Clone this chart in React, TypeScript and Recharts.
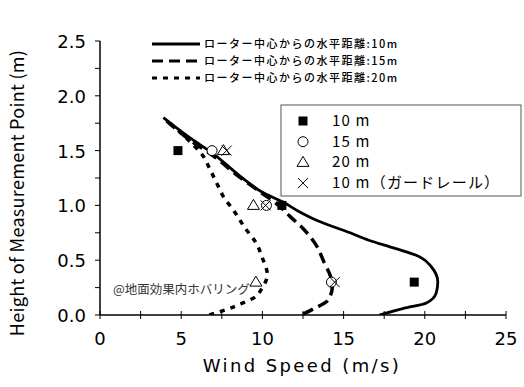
import { ComposedChart, Line, Scatter, XAxis, YAxis, Customized } from "recharts";

// curves: wind speed (m/s) vs height (m), by distance from rotor centre
const speed10 = [3.9, 5.5, 6.9, 8.6, 10.0, 11.27, 12.3, 13.4, 15.4, 16.6, 17.9, 19.7, 20.4, 20.8, 20.7, 20.1, 18.7, 17.2];
const height10 = [1.8, 1.62, 1.48, 1.27, 1.12, 1.03, 0.94, 0.86, 0.75, 0.68, 0.62, 0.53, 0.44, 0.3, 0.2, 0.11, 0.06, 0.0];

const speed15 = [4.1, 5.5, 6.9, 8.5, 9.9, 11.0, 11.7, 12.5, 13.3, 13.8, 14.2, 14.3, 14.0, 13.2, 12.4];
const height15 = [1.77, 1.6, 1.46, 1.27, 1.12, 1.0, 0.9, 0.79, 0.64, 0.48, 0.35, 0.25, 0.13, 0.06, 0.0];

const speed20 = [4.3, 5.35, 6.35, 6.8, 7.2, 7.6, 8.25, 8.9, 9.6, 10.0, 10.3, 10.0, 9.4, 8.8, 7.8, 6.7];
const height20 = [1.75, 1.61, 1.45, 1.32, 1.2, 1.08, 0.95, 0.8, 0.66, 0.52, 0.37, 0.25, 0.15, 0.11, 0.05, 0.0];

// measured points
const measHeights = [1.5, 1.0, 0.3];
const meas10 = [4.8, 11.2, 19.35];
const meas15 = [6.9, 10.25, 14.25];
const meas20 = [7.6, 9.45, 9.6];
const measGuard = [7.8, 10.2, 14.45];

const xTicks = [0, 2.5, 5, 7.5, 10, 12.5, 15, 17.5, 20, 22.5, 25];
const yTicks = [0, 0.25, 0.5, 0.75, 1, 1.25, 1.5, 1.75, 2, 2.25, 2.5];

const curveLabels = [
  "ローター中心からの水平距離:10m",
  "ローター中心からの水平距離:15m",
  "ローター中心からの水平距離:20m",
];
const markerLabels = ["10 m", "15 m", "20 m", "10 m（ガードレール）"];

const zip = (xs: number[], ys: number[]) => xs.map((x, i) => ({ x, y: ys[i] }));

const FONT = "'Noto Sans CJK JP', 'Noto Sans', sans-serif";
const NUM_FONT = "'DejaVu Sans', sans-serif";

const XTick = (props: any) => {
  const { x, y, payload } = props;
  const major = payload.value % 5 === 0;
  return (
    <g>
      <line x1={x} x2={x} y1={y - 4} y2={y + 4} stroke="#000" strokeWidth={1} />
      {major && (
        <text x={x} y={y + 30} textAnchor="middle" fontSize={18} fontFamily={NUM_FONT} fill="#000">
          {payload.value}
        </text>
      )}
    </g>
  );
};

const YTick = (props: any) => {
  const { x, y, payload } = props;
  const major = Math.abs((payload.value * 2) % 1) < 1e-6;
  return (
    <g>
      <line x1={x - 5} x2={x} y1={y} y2={y} stroke="#000" strokeWidth={1} />
      {major && (
        <text x={x - 14} y={y + 7} textAnchor="end" fontSize={18} fontFamily={NUM_FONT} fill="#000">
          {payload.value.toFixed(1)}
        </text>
      )}
    </g>
  );
};

const Square = ({ cx, cy }: any) => <rect x={cx - 4.5} y={cy - 4.5} width={9} height={9} fill="#000" />;
const Circle = ({ cx, cy }: any) => <circle cx={cx} cy={cy} r={5} fill="#fff" stroke="#000" strokeWidth={1} />;
const Triangle = ({ cx, cy }: any) => (
  <path d={`M${cx},${cy - 6} L${cx + 6},${cy + 4} L${cx - 6},${cy + 4} Z`} fill="none" stroke="#000" strokeWidth={1} />
);
const Cross = ({ cx, cy }: any) => (
  <path d={`M${cx - 5},${cy - 5} L${cx + 5},${cy + 5} M${cx + 5},${cy - 5} L${cx - 5},${cy + 5}`} stroke="#000" strokeWidth={1} />
);

const dashes = [undefined, "11 6", "5 6"];
const markerShapes = [Square, Circle, Triangle, Cross];

const Overlay = () => (
  <g fontFamily={FONT}>
    {curveLabels.map((t, i) => (
      <g key={t}>
        <line x1={152} x2={200} y1={44 + i * 17} y2={44 + i * 17} stroke="#000" strokeWidth={3} strokeDasharray={dashes[i]} />
        <text x={204} y={48 + i * 17} fontSize={11} letterSpacing={1.5} fontWeight={500} fill="#000">
          {t}
        </text>
      </g>
    ))}
    <rect x={281} y={105} width={240} height={91} fill="#fff" stroke="#555" strokeWidth={1} />
    {markerLabels.map((t, i) => {
      const Shape = markerShapes[i];
      const cy = 121 + i * 20.7;
      return (
        <g key={t}>
          <Shape cx={303} cy={cy} />
          <text x={332} y={cy + 5} fontSize={15} fill="#000" letterSpacing={1.2}>
            {t}
          </text>
        </g>
      );
    })}
    <text x={113} y={294} fontSize={12.5} fill="#333">
      @地面効果内ホバリング
    </text>
    <text x={302} y={372} textAnchor="middle" fontSize={18} fontFamily={NUM_FONT} letterSpacing={2.4} fill="#000">
      Wind Speed (m/s)
    </text>
    <text
      transform="translate(24,193) rotate(-90)"
      textAnchor="middle"
      fontSize={18}
      letterSpacing={0.3}
      fill="#000"
    >
      Height of Measurement Point (m)
    </text>
  </g>
);

export default function App() {
  return (
    <div style={{ position: "absolute", left: 0, top: 0, width: 524, height: 387, background: "#fff" }}>
      <ComposedChart width={524} height={387} margin={{ top: 41, right: 18, bottom: 0, left: 0 }}>
        <XAxis
          type="number"
          dataKey="x"
          domain={[0, 25]}
          ticks={xTicks}
          interval={0}
          height={72}
          tickSize={0}
          tickMargin={0}
          tick={<XTick />}
          axisLine={{ stroke: "#000", strokeWidth: 1.5 }}
          allowDataOverflow
        />
        <YAxis
          type="number"
          dataKey="y"
          domain={[0, 2.5]}
          ticks={yTicks}
          interval={0}
          width={100}
          tickSize={0}
          tickMargin={0}
          tick={<YTick />}
          axisLine={{ stroke: "#000", strokeWidth: 1.5 }}
          allowDataOverflow
        />
        <Line data={zip(speed20, height20)} dataKey="y" type="monotoneY" stroke="#000" strokeWidth={3.5} strokeDasharray="5 6" dot={false} isAnimationActive={false} />
        <Line data={zip(speed15, height15)} dataKey="y" type="monotoneY" stroke="#000" strokeWidth={3.5} strokeDasharray="11 6" dot={false} isAnimationActive={false} />
        <Line data={zip(speed10, height10)} dataKey="y" type="monotoneY" stroke="#000" strokeWidth={2.8} dot={false} isAnimationActive={false} />
        <Customized component={Overlay} />
        <Scatter data={zip(meas10, measHeights)} shape={<Square />} isAnimationActive={false} />
        <Scatter data={zip(meas15, measHeights)} shape={<Circle />} isAnimationActive={false} />
        <Scatter data={zip(meas20, measHeights)} shape={<Triangle />} isAnimationActive={false} />
        <Scatter data={zip(measGuard, measHeights)} shape={<Cross />} isAnimationActive={false} />
      </ComposedChart>
    </div>
  );
}
